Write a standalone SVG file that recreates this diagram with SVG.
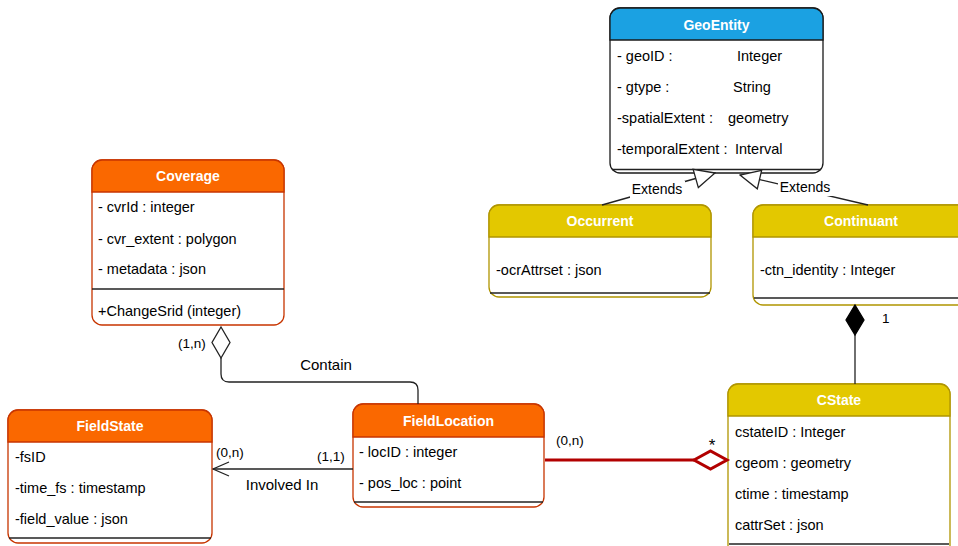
<svg xmlns="http://www.w3.org/2000/svg" width="958" height="546" viewBox="0 0 958 546">
<style>
text{font-family:"Liberation Sans",Arial,Helvetica,sans-serif;fill:#000}
.row{font-size:14.5px;dominant-baseline:central}
.title{font-size:14px;font-weight:bold;fill:#fff;text-anchor:middle;dominant-baseline:central}
.lbl{font-size:13.5px;dominant-baseline:central}
.lbl15{font-size:15px;dominant-baseline:central}
.body{fill:#fff}
.orange{stroke:#C73500;stroke-width:1.3}
.yellow{stroke:#B09500;stroke-width:1.3}
.blue{stroke:#1a1a1a;stroke-width:1.3}
.hO{fill:#fa6800}
.hY{fill:#e3c800}
.hB{fill:#1ba1e2}
.sep{stroke:#222;stroke-width:1.3}
.conn{fill:none;stroke:#222;stroke-width:1.3}
</style>
<defs>
<marker id="tri" viewBox="-22 -11 23 22" refX="0" refY="0" markerWidth="23" markerHeight="22" markerUnits="userSpaceOnUse" orient="auto">
<path d="M0,0 L-20,-9.5 L-20,9.5 Z" fill="#fff" stroke="#222" stroke-width="1.3"/>
</marker>
<marker id="openArrow" viewBox="-18 -10 19 20" refX="0" refY="0" markerWidth="19" markerHeight="20" markerUnits="userSpaceOnUse" orient="auto">
<path d="M-16,-7 L0,0 L-16,7" fill="none" stroke="#222" stroke-width="1.3"/>
</marker>
</defs>

<g id="GeoEntity">
<rect class="body blue" x="610" y="8" width="213" height="165" rx="10"/>
<path class="hB blue" d="M610,40 V18 A10,10 0 0 1 620,8 H813 A10,10 0 0 1 823,18 V40 Z"/>
<line class="sep" x1="612" y1="169.5" x2="821" y2="169.5"/>
<text class="title" x="716.5" y="25">GeoEntity</text>
<text class="row" x="617" y="56">- geoID :</text><text class="row" x="737" y="56">Integer</text>
<text class="row" x="617" y="87">- gtype :</text><text class="row" x="733" y="87">String</text>
<text class="row" x="617" y="118">-spatialExtent :</text><text class="row" x="728" y="118">geometry</text>
<text class="row" x="617" y="149">-temporalExtent :</text><text class="row" x="735" y="149">Interval</text>
</g>

<g id="Occurrent">
<rect class="body yellow" x="489" y="205" width="222" height="92" rx="10"/>
<path class="hY yellow" d="M489,237 V215 A10,10 0 0 1 499,205 H701 A10,10 0 0 1 711,215 V237 Z"/>
<line class="sep" x1="490" y1="293" x2="710" y2="293"/>
<text class="title" x="600" y="221">Occurrent</text>
<text class="row" x="496" y="270">-ocrAttrset  : json</text>
</g>

<g id="Continuant">
<rect class="body yellow" x="753" y="205" width="216" height="100" rx="10"/>
<path class="hY yellow" d="M753,237 V215 A10,10 0 0 1 763,205 H959 A10,10 0 0 1 969,215 V237 Z"/>
<line class="sep" x1="754" y1="298" x2="968" y2="298"/>
<text class="title" x="861" y="221">Continuant</text>
<text class="row" x="760" y="270">-ctn_identity : Integer</text>
</g>

<g id="Coverage">
<rect class="body orange" x="92" y="160" width="192" height="165" rx="10"/>
<path class="hO orange" d="M92,192 V170 A10,10 0 0 1 102,160 H274 A10,10 0 0 1 284,170 V192 Z"/>
<line class="sep" x1="92" y1="289" x2="284" y2="289"/>
<text class="title" x="188" y="176">Coverage</text>
<text class="row" x="98" y="207">- cvrId : integer</text>
<text class="row" x="98" y="239">- cvr_extent : polygon</text>
<text class="row" x="98" y="269">- metadata : json</text>
<text class="row" x="98" y="311">+ChangeSrid (integer)</text>
</g>

<g id="FieldState">
<rect class="body orange" x="8" y="410" width="204" height="133" rx="10"/>
<path class="hO orange" d="M8,442 V420 A10,10 0 0 1 18,410 H202 A10,10 0 0 1 212,420 V442 Z"/>
<line class="sep" x1="9" y1="538" x2="211" y2="538"/>
<text class="title" x="110" y="426">FieldState</text>
<text class="row" x="15" y="457">-fsID</text>
<text class="row" x="15" y="488">-time_fs : timestamp</text>
<text class="row" x="15" y="519">-field_value : json</text>
</g>

<g id="FieldLocation">
<rect class="body orange" x="353" y="404" width="191" height="103" rx="10"/>
<path class="hO orange" d="M353,437 V414 A10,10 0 0 1 363,404 H534 A10,10 0 0 1 544,414 V437 Z"/>
<line class="sep" x1="354" y1="502" x2="543" y2="502"/>
<text class="title" x="448.5" y="421">FieldLocation</text>
<text class="row" x="359" y="452">- locID : integer</text>
<text class="row" x="359" y="483">- pos_loc : point</text>
</g>

<g id="CState">
<rect class="body yellow" x="728" y="384" width="222" height="172" rx="10"/>
<path class="hY yellow" d="M728,416 V394 A10,10 0 0 1 738,384 H940 A10,10 0 0 1 950,394 V416 Z"/>
<line class="sep" x1="729" y1="544" x2="949" y2="544"/>
<text class="title" x="839" y="400">CState</text>
<text class="row" x="735" y="432">cstateID : Integer</text>
<text class="row" x="735" y="463">cgeom : geometry</text>
<text class="row" x="735" y="494">ctime : timestamp</text>
<text class="row" x="735" y="525">cattrSet : json</text>
</g>

<g id="connectors">
<!-- Extends -->
<line class="conn" x1="602" y1="205" x2="715" y2="173" marker-end="url(#tri)"/>
<line class="conn" x1="868" y1="205" x2="740" y2="175" marker-end="url(#tri)"/>
<rect x="630" y="181" width="55" height="17" fill="#fff"/>
<text x="657" y="189" font-size="14" text-anchor="middle" dominant-baseline="central">Extends</text>
<rect x="778" y="179" width="55" height="17" fill="#fff"/>
<text x="805" y="187" font-size="14" text-anchor="middle" dominant-baseline="central">Extends</text>
<!-- Composition Continuant - CState -->
<line class="conn" x1="855" y1="335" x2="855" y2="384"/>
<path d="M855,305 L864,320 L855,335 L846,320 Z" fill="#000" stroke="#000" stroke-width="1.3"/>
<text x="882" y="318" class="lbl">1</text>
<!-- Contain -->
<path class="conn" d="M221,358 V374 Q221,382 229,382 H410 Q418,382 418,390 V404"/>
<path d="M221,327 L230,342.5 L221,358 L212,342.5 Z" fill="#fff" stroke="#222" stroke-width="1.3"/>
<text x="178" y="343" class="lbl">(1,n)</text>
<text x="326" y="364" class="lbl15" text-anchor="middle">Contain</text>
<!-- Involved In -->
<line class="conn" x1="353" y1="469" x2="213" y2="469" marker-end="url(#openArrow)"/>
<text x="216" y="452" class="lbl">(0,n)</text>
<text x="317" y="456" class="lbl">(1,1)</text>
<text x="282" y="484" class="lbl15" text-anchor="middle">Involved In</text>
<!-- Aggregation FieldLocation - CState -->
<line x1="545" y1="460" x2="694" y2="460" stroke="#b20000" stroke-width="3"/>
<path d="M694,460 L710.5,451 L727,460 L710.5,469 Z" fill="#fff" stroke="#b20000" stroke-width="3"/>
<text x="556" y="440" class="lbl">(0,n)</text>
<text x="712" y="451" font-size="17" text-anchor="middle">*</text>
</g>
</svg>
